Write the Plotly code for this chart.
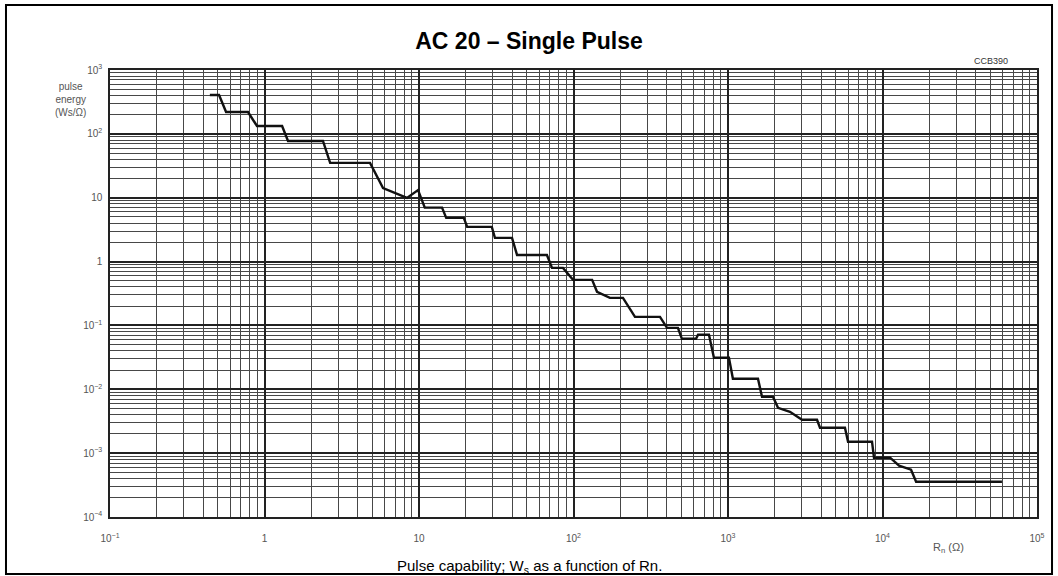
import plotly.graph_objects as go

# Staircase pulse-capability curve (Rn in ohm, Ws in Ws/ohm)
R_ohm = [0.443, 0.508, 0.564, 0.782, 0.894, 1.30, 1.42, 2.39, 2.66, 4.82,
         5.85, 6.79, 8.36, 9.86, 10.9, 14.1, 15.0, 19.5, 20.5, 29.6,
         31.0, 40.0, 43.1, 67.3, 72.6, 85.5, 99.3, 132, 142, 172,
         209, 250, 363, 403, 474, 503, 621, 640, 753, 811,
         1014, 1076, 1563, 1660, 1954, 2107, 2518, 3013, 3768, 3939,
         5714, 5984, 8553, 8810, 11200, 12800, 15300, 16500, 59300]
W_ws = [406, 406, 220, 220, 133, 133, 77.4, 77.4, 35.1, 35.1,
        14.2, 12.3, 9.93, 13.2, 7.0, 7.0, 4.83, 4.83, 3.49, 3.49,
        2.35, 2.35, 1.27, 1.27, 0.797, 0.797, 0.517, 0.517, 0.336, 0.270,
        0.270, 0.136, 0.136, 0.0917, 0.0917, 0.0617, 0.0617, 0.0713, 0.0713, 0.0311,
        0.0311, 0.0146, 0.0146, 0.00763, 0.00763, 0.00513, 0.00445, 0.00333, 0.00333, 0.00250,
        0.00250, 0.00151, 0.00151, 0.000848, 0.000848, 0.000635, 0.000550, 0.000357, 0.000357]

x_tick_vals = [0.1, 1, 10, 100, 1000, 10000, 100000]
x_tick_text = ["10<sup>−1</sup>", "1", "10", "10<sup>2</sup>", "10<sup>3</sup>", "10<sup>4</sup>", "10<sup>5</sup>"]
y_tick_vals = [1e-4, 1e-3, 1e-2, 1e-1, 1, 10, 100, 1000]
y_tick_text = ["10<sup>−4</sup>", "10<sup>−3</sup>", "10<sup>−2</sup>", "10<sup>−1</sup>", "1", "10", "10<sup>2</sup>", "10<sup>3</sup>"]

fig = go.Figure()
fig.add_trace(go.Scatter(x=R_ohm, y=W_ws, mode="lines",
                         line=dict(color="#111111", width=2.4), showlegend=False,
                         hoverinfo="x+y"))

grid_major = "#222222"
grid_minor = "#484848"
tick_font = dict(family="Liberation Sans, Arial", size=10, color="#555555")

fig.update_xaxes(type="log", range=[-1, 5], tickvals=x_tick_vals, ticktext=x_tick_text,
                 showgrid=True, gridcolor=grid_major, gridwidth=1.8,
                 minor=dict(dtick="D1", showgrid=True, gridcolor=grid_minor, gridwidth=1.2),
                 showline=True, mirror=True, linecolor=grid_major, linewidth=1.5,
                 ticks="", tickfont=tick_font, ticklabelstandoff=11, zeroline=False)
fig.update_yaxes(type="log", range=[-4, 3], tickvals=y_tick_vals, ticktext=y_tick_text,
                 showgrid=True, gridcolor=grid_major, gridwidth=1.8,
                 minor=dict(dtick="D1", showgrid=True, gridcolor=grid_minor, gridwidth=1.2),
                 showline=True, mirror=True, linecolor=grid_major, linewidth=1.5,
                 ticks="", tickfont=tick_font, ticklabelstandoff=4, zeroline=False)

fig.update_layout(
    width=1058, height=576,
    margin=dict(l=110, r=21, t=70, b=59),
    paper_bgcolor="white", plot_bgcolor="white",
    title=dict(text="<b>AC 20 – Single Pulse</b>", x=0.5, xref="container",
               y=1 - 41 / 576, yref="container", xanchor="center", yanchor="middle",
               font=dict(family="Liberation Sans, Arial", size=23, color="black")),
    shapes=[dict(type="rect", xref="paper", yref="paper",
                 x0=-0.1122, x1=1.0162, y0=-0.1275, y1=1.1454,
                 line=dict(color="black", width=2), fillcolor="rgba(0,0,0,0)", layer="above")],
    annotations=[
        dict(text="Pulse capability; W<sub>s</sub> as a function of Rn.", xref="paper", yref="paper",
             x=0.452, y=-0.11, xanchor="center", yanchor="middle", showarrow=False,
             font=dict(family="Liberation Sans, Arial", size=15, color="black")),
        dict(text="pulse<br>energy<br>(Ws/Ω)", xref="paper", yref="paper",
             x=-0.043, y=0.933, xanchor="center", yanchor="middle", showarrow=False,
             font=dict(family="Liberation Sans, Arial", size=10, color="#555555")),
        dict(text="R<sub>n</sub> (Ω)", xref="paper", yref="paper",
             x=0.905, y=-0.07, xanchor="center", yanchor="middle", showarrow=False,
             font=dict(family="Liberation Sans, Arial", size=11, color="#555555")),
        dict(text="CCB390", xref="paper", yref="paper",
             x=0.95, y=1.02, xanchor="center", yanchor="middle", showarrow=False,
             font=dict(family="Liberation Sans, Arial", size=9, color="#333333")),
    ],
)

fig.write_html("out.html")
